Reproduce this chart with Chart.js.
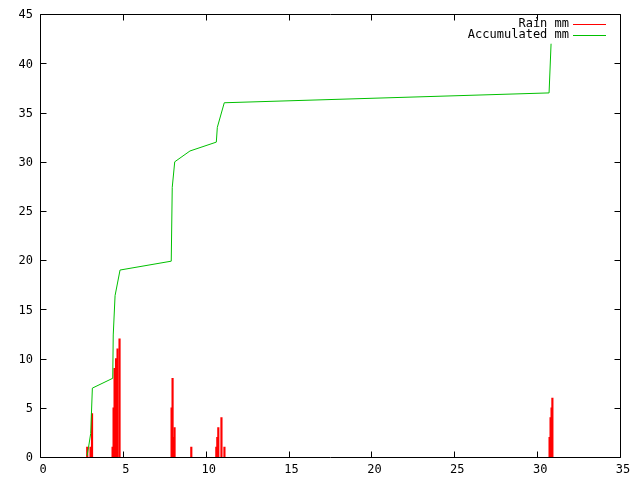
<!DOCTYPE html>
<html>
<head>
<meta charset="utf-8">
<script src="https://cdn.jsdelivr.net/npm/chart.js@4"></script>
<style>
  html, body { margin: 0; padding: 0; background: #fff; }
</style>
</head>
<body>
<canvas id="rainChart" width="640" height="480"></canvas>
<script>
// Rain per reading (impulses)
const rainX = [2.85, 3.05, 3.14, 4.38, 4.44, 4.50, 4.59, 4.68, 4.80,
               7.94, 8.00, 8.06, 8.12, 9.13,
               10.64, 10.70, 10.76, 10.95, 11.13,
               30.75, 30.81, 30.87, 30.92];
const rainMm = [1, 1, 4.4, 1, 5, 9, 10, 11, 12,
                5, 8, 2, 3, 1,
                1, 2, 3, 4, 1,
                2, 4, 5, 6];

// Accumulated rain
const accX = [2.84, 2.93, 3.06, 3.16, 4.39, 4.42, 4.53, 4.83, 7.92, 7.98, 8.13, 9.05, 10.64, 10.70, 11.12, 30.72, 30.84];
const accMm = [0.1, 1.0, 2.4, 7.0, 8.0, 12.4, 16.4, 19.0, 19.9, 27.4, 30.0, 31.1, 32.0, 33.5, 36.0, 37.0, 42.0];

const seriesNames = ['Rain mm', 'Accumulated mm'];
const seriesColors = ['#ff0000', '#00c000'];

const monoFont = { family: '"DejaVu Sans Mono", monospace', size: 12 };

// gnuplot style frame, inward ticks on all sides, and right aligned key
const gnuplotFrame = {
  id: 'gnuplotFrame',
  afterDraw(chart) {
    const { ctx, chartArea: a, scales } = chart;
    const x = scales.x, y = scales.y;
    const L = Math.round(a.left) + 0.5, R = Math.round(a.right) + 0.5;
    const T = Math.round(a.top) + 0.5, B = Math.round(a.bottom) + 0.5;
    const tick = 6;
    ctx.save();
    ctx.strokeStyle = '#000';
    ctx.lineWidth = 1;
    ctx.beginPath();
    ctx.rect(L, T, R - L, B - T);
    x.ticks.forEach(t => {
      const px = Math.round(x.getPixelForValue(t.value)) + 0.5;
      ctx.moveTo(px, B); ctx.lineTo(px, B - tick);
      ctx.moveTo(px, T); ctx.lineTo(px, T + tick);
    });
    y.ticks.forEach(t => {
      const py = Math.round(y.getPixelForValue(t.value)) + 0.5;
      ctx.moveTo(L, py); ctx.lineTo(L + tick, py);
      ctx.moveTo(R, py); ctx.lineTo(R - tick, py);
    });
    ctx.stroke();

    // key
    ctx.font = '12px "DejaVu Sans Mono", monospace';
    ctx.textAlign = 'right';
    ctx.textBaseline = 'middle';
    ctx.fillStyle = '#000';
    chart.data.datasets.forEach((ds, i) => {
      const ry = 24 + i * 11;
      ctx.fillText(ds.label, 569, ry);
      ctx.strokeStyle = ds.borderColor;
      ctx.beginPath();
      ctx.moveTo(573, ry + 0.5);
      ctx.lineTo(606, ry + 0.5);
      ctx.stroke();
    });
    ctx.restore();
  }
};

new Chart(document.getElementById('rainChart'), {
  type: 'bar',
  data: {
    datasets: [{
      type: 'bar',
      label: seriesNames[0],
      data: rainX.map((v, i) => ({ x: v, y: rainMm[i] })),
      backgroundColor: seriesColors[0],
      borderColor: seriesColors[0],
      borderWidth: 0,
      barThickness: 1.5,
      grouped: false,
      order: 2
    }, {
      type: 'line',
      label: seriesNames[1],
      data: accX.map((v, i) => ({ x: v, y: accMm[i] })),
      borderColor: seriesColors[1],
      backgroundColor: seriesColors[1],
      borderWidth: 1,
      pointRadius: 0,
      tension: 0,
      fill: false,
      order: 1
    }]
  },
  options: {
    responsive: false,
    animation: false,
    devicePixelRatio: 1,
    layout: { padding: { left: 0, right: 20, top: 13, bottom: 0 } },
    plugins: {
      legend: { display: false },
      tooltip: { enabled: false }
    },
    scales: {
      x: {
        type: 'linear',
        min: 0,
        max: 35,
        offset: false,
        grid: { display: false, drawTicks: false },
        border: { display: false },
        ticks: { stepSize: 5, color: '#000', font: monoFont, padding: 6, labelOffset: 3, maxRotation: 0 },
        afterFit(s) { s.height = 23; }
      },
      y: {
        min: 0,
        max: 45,
        grid: { display: false, drawTicks: false },
        border: { display: false },
        ticks: { stepSize: 5, color: '#000', font: monoFont, padding: 7, labelOffset: 1 },
        afterFit(s) { s.width = 40; }
      }
    }
  },
  plugins: [gnuplotFrame]
});
</script>
</body>
</html>
